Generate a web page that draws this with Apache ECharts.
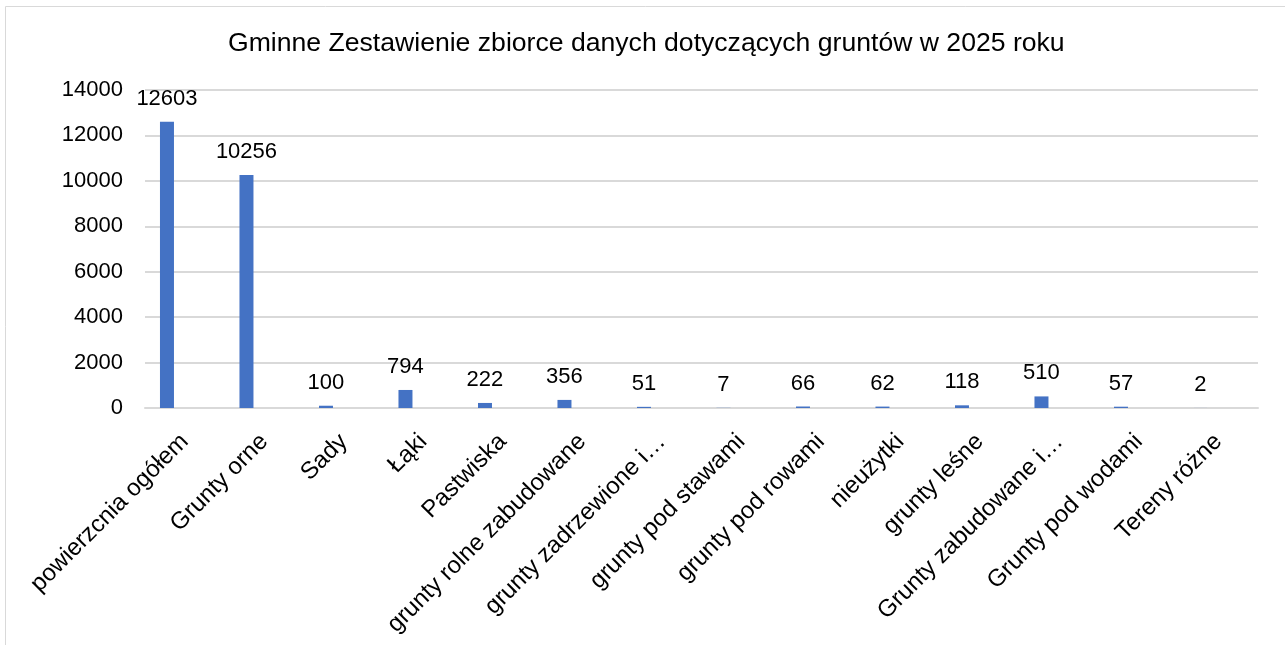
<!DOCTYPE html>
<html>
<head>
<meta charset="utf-8">
<script src="https://cdn.jsdelivr.net/npm/echarts@6/dist/echarts.min.js"></script>
<style>
  html, body { margin: 0; padding: 0; background: #fff; }
  #chart { width: 1285px; height: 645px; }
</style>
</head>
<body>
<div id="chart"></div>
<script>
// dane z zestawienia gruntów
const titleText = 'Gminne Zestawienie zbiorce danych dotyczących gruntów w 2025 roku';
const categories = [
  'powierzcnia ogółem', 'Grunty orne', 'Sady', 'Łąki', 'Pastwiska',
  'grunty rolne zabudowane', 'grunty zadrzewione i…', 'grunty pod stawami',
  'grunty pod rowami', 'nieużytki', 'grunty leśne', 'Grunty zabudowane i…',
  'Grunty pod wodami', 'Tereny różne'
];
const values = [12603, 10256, 100, 794, 222, 356, 51, 7, 66, 62, 118, 510, 57, 2];
const emptySeries = categories.map(() => null); // druga (pusta) seria jak w Excelu
const yTicks = { min: 0, max: 14000, interval: 2000 };

const font = "'Liberation Sans', Arial, sans-serif";
const chart = echarts.init(document.getElementById('chart'));

chart.setOption({
  animation: false,
  textStyle: { fontFamily: font },
  title: {
    text: titleText,
    left: 228,
    top: 30,
    padding: 0,
    textStyle: { fontFamily: font, fontSize: 26.6, fontWeight: 'normal', color: '#000' }
  },
  graphic: [{
    type: 'rect',
    shape: { x: 5.5, y: 6.5, width: 1400, height: 800 },
    style: { fill: 'none', stroke: '#d9d9d9', lineWidth: 1 },
    silent: true
  }],
  grid: { left: 145, right: 27, top: 90, bottom: 237 },
  xAxis: {
    type: 'category',
    data: categories,
    axisLine: { lineStyle: { color: '#d9d9d9', width: 2 } },
    axisTick: { show: false },
    axisLabel: {
      rotate: 45,
      interval: 0,
      margin: 30,
      fontSize: 24,
      color: '#000',
      fontFamily: font
    }
  },
  yAxis: {
    type: 'value',
    min: yTicks.min,
    max: yTicks.max,
    interval: yTicks.interval,
    axisLine: { show: false },
    axisTick: { show: false },
    splitLine: { lineStyle: { color: '#d9d9d9', width: 2 } },
    axisLabel: {
      fontSize: 22,
      color: '#000',
      margin: 22,
      fontFamily: font,
      formatter: (v) => String(v)
    }
  },
  series: [
    {
      type: 'bar',
      data: values,
      barWidth: 14,
      barGap: '154%',
      itemStyle: { color: '#4472C4' },
      label: {
        show: true,
        position: 'top',
        distance: 12,
        fontSize: 22,
        color: '#000',
        fontFamily: font
      }
    },
    {
      type: 'bar',
      data: emptySeries,
      barWidth: 14,
      itemStyle: { color: '#ED7D31' }
    }
  ]
});
</script>
</body>
</html>
